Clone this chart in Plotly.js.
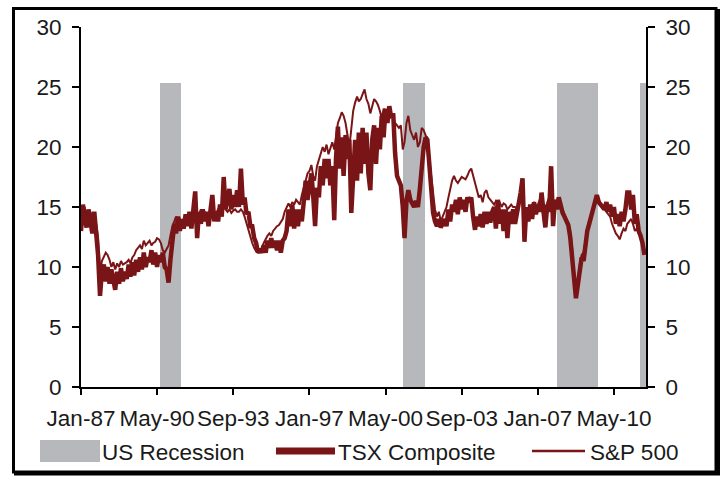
<!DOCTYPE html>
<html>
<head>
<meta charset="utf-8">
<script src="https://cdn.plot.ly/plotly-3.0.1.min.js"></script>
<style>html,body{margin:0;padding:0;background:#fff;}#chart{width:722px;height:478px;}</style>
</head>
<body>
<div id="chart"></div>
<script>
// Monthly series start Jan-1987
const startYear = 1987;
const tsx = [
  13.0, 15.2, 14.0, 13.3, 14.8, 13.4, 12.8, 14.6, 12.9, 11.0, 7.6, 9.6,
  10.2, 8.8, 10.0, 8.6, 9.8, 8.8, 8.1, 9.6, 8.6, 9.9, 8.8, 9.6,
  9.0, 10.2, 9.2, 10.4, 9.3, 10.6, 9.6, 10.8, 9.8, 11.2, 10.0, 10.8,
  10.4, 11.4, 10.2, 11.2, 10.0, 11.0, 10.4, 11.2, 10.0, 9.8, 8.7, 10.6,
  12.0, 13.6, 12.8, 14.2, 13.0, 14.0, 13.2, 14.4, 13.4, 14.6, 13.2, 14.4,
  16.3, 12.4, 14.6, 13.6, 14.8, 13.8, 14.6, 13.4, 14.8, 16.0, 13.8, 14.6,
  13.8, 15.2, 14.2, 17.5, 14.8, 16.0, 16.5, 14.8, 16.0, 15.0, 16.4, 15.0,
  18.2, 15.2, 15.8, 14.4, 14.6, 13.4, 13.4, 12.4, 12.0, 11.2, 11.5, 11.2,
  11.8, 11.2, 12.2, 11.6, 12.4, 11.6, 12.2, 11.4, 12.2, 11.2, 12.2, 12.4,
  13.0, 14.8, 13.4, 15.2, 13.2, 14.8, 13.4, 14.8, 13.8, 15.4, 17.2, 15.6,
  16.8, 17.8, 16.0, 13.4, 16.6, 15.8, 18.4, 16.8, 19.0, 17.4, 19.0, 16.8,
  18.4, 13.9, 19.0, 21.7, 18.2, 20.8, 17.6, 21.0, 19.0, 20.6, 14.5, 18.4,
  20.6, 17.2, 21.2, 17.8, 21.6, 18.6, 21.2, 17.8, 16.4, 20.6, 21.8, 18.6,
  21.6, 19.8, 22.6, 20.8, 23.2, 22.0, 23.4, 22.4, 22.8, 19.5, 17.6, 17.2,
  16.8, 15.0, 12.4, 15.5, 16.4, 15.6, 15.2, 15.0, 15.5, 15.0, 16.5, 18.5,
  20.0, 20.8, 20.6, 18.6, 16.5, 14.5, 13.8, 13.4, 14.0, 13.3, 13.6, 14.0,
  13.4, 14.8, 13.8, 15.2, 14.6, 15.6, 14.4, 15.8, 14.8, 15.6, 14.6, 15.8,
  15.4, 15.8, 14.2, 13.1, 14.2, 13.4, 14.4, 13.3, 14.6, 13.6, 14.6, 13.7,
  14.6, 15.0, 13.2, 15.6, 13.6, 14.8, 13.0, 14.8, 12.4, 14.6, 13.6, 14.8,
  13.6, 14.8, 15.3, 16.2, 17.4, 12.1, 15.0, 13.8, 15.2, 14.0, 15.4, 14.4,
  15.2, 14.6, 16.2, 14.6, 13.3, 15.2, 14.6, 18.4, 13.4, 15.6, 14.8, 15.8,
  15.0, 14.5, 14.2, 13.8, 13.5, 12.5, 11.0, 9.0, 7.4, 8.5, 10.0, 10.8,
  10.5, 12.0, 13.0, 13.6, 14.2, 15.0, 15.6, 16.0, 15.4, 15.2, 15.0, 14.8,
  15.4, 14.6, 15.2, 14.2, 15.0, 13.6, 14.4, 13.4, 14.6, 13.8, 14.8, 16.2,
  16.2, 14.8, 16.0, 13.6, 14.4, 13.0, 12.6, 12.0, 11.0
];
const sp500 = [
  14.0, 14.6, 15.0, 14.2, 14.0, 14.6, 14.0, 14.4, 13.6, 12.5, 9.5, 10.5,
  10.8, 11.2, 11.0, 10.6, 10.0, 10.4, 9.8, 10.3, 10.0, 10.5, 10.2, 10.3,
  10.4, 10.6, 10.3, 10.8, 11.0, 11.4, 11.6, 11.8, 11.5, 12.2, 11.8, 12.0,
  12.2, 11.8, 12.0, 12.1, 12.4, 12.3, 12.0, 11.4, 11.2, 11.5, 11.8, 12.6,
  13.4, 13.8, 14.2, 13.8, 14.0, 13.6, 14.0, 14.2, 13.8, 14.4, 14.0, 14.6,
  15.0, 14.0, 14.4, 14.8, 14.2, 14.6, 14.4, 14.2, 14.6, 14.8, 14.6, 14.5,
  14.8, 15.0, 14.6, 15.2, 14.8, 14.6, 14.8, 14.5, 14.7, 14.8, 14.6, 14.6,
  14.8, 14.6, 14.2, 13.6, 13.0, 12.4, 12.0, 11.6, 11.3, 11.2, 11.4, 11.6,
  12.0, 12.4, 12.6, 12.8, 12.6, 13.0, 13.2, 13.4, 13.5, 13.7, 14.0, 14.6,
  15.0, 15.3, 15.0, 15.4, 15.2, 15.6, 15.4, 15.2, 16.0, 16.6, 17.4, 17.8,
  18.0, 18.5, 17.6, 17.2, 18.4, 19.0, 19.5, 20.0, 19.6, 20.2, 19.4, 20.0,
  20.4, 19.8, 21.0, 22.0, 22.4, 22.9, 22.6, 22.0, 21.0, 20.0, 21.5, 23.0,
  23.7, 24.2, 23.8, 24.0, 24.4, 24.8, 24.0, 23.6, 22.8, 23.5, 24.0, 23.8,
  23.5, 23.0, 22.4, 23.2, 22.8, 23.0, 22.6, 22.8, 22.4, 22.0, 21.8, 21.6,
  21.8, 19.8, 20.4, 22.0, 22.6, 21.4, 21.0, 20.6, 21.2, 20.0, 20.4, 21.6,
  21.4, 21.0, 20.6, 19.0, 17.5, 15.8, 14.8, 14.2, 14.6, 13.8, 14.2, 14.6,
  15.0, 15.8, 16.6, 17.2, 17.6, 17.2, 17.0, 17.3, 17.5, 17.4, 17.3, 17.6,
  18.0, 18.2, 17.6, 17.1, 16.4, 15.8, 16.0, 15.4, 16.2, 16.4, 15.8, 15.6,
  15.4, 15.2, 15.5, 15.3, 15.4, 15.0, 15.3, 15.2, 14.8, 15.0, 15.2, 15.0,
  15.0, 14.8, 15.2, 15.6, 16.4, 14.2, 14.8, 14.6, 15.0, 15.2, 15.4, 15.0,
  15.2, 15.6, 15.8, 15.2, 14.6, 15.4, 15.8, 16.6, 14.8, 15.4, 15.6, 15.6,
  15.2, 14.8, 14.4, 14.0, 13.6, 13.0, 11.6, 9.6, 8.0, 8.8, 10.2, 11.0,
  11.2, 12.2, 13.2, 13.8, 14.4, 15.0, 15.4, 15.8, 15.6, 15.2, 15.0, 14.8,
  14.6, 14.4, 14.2, 13.6, 13.2, 12.8, 12.6, 12.3, 12.8, 13.2, 13.0, 13.6,
  13.8, 14.0, 13.6, 13.0, 13.2, 12.8, 12.4, 12.0, 11.4
];
const recessionStart = ['1990-06-20', '2001-02-01', '2007-11-01', '2011-06-20'];
const recessionEnd   = ['1991-05-20', '2002-01-15', '2009-08-20', '2011-10-01'];
const recessionLevel = 25.3;
const tickDates  = ['1987-01-01','1990-05-01','1993-09-01','1997-01-01','2000-05-01','2003-09-01','2007-01-01','2010-05-01'];
const tickLabels = ['Jan-87','May-90','Sep-93','Jan-97','May-00','Sep-03','Jan-07','May-10'];
const seriesNames = ['US Recession', 'TSX Composite', 'S&P 500'];

function monthDate(i) {
  const y = startYear + Math.floor(i / 12);
  const m = (i % 12) + 1;
  return y + '-' + (m < 10 ? '0' + m : m) + '-01';
}
const dates = tsx.map((_, i) => monthDate(i));

const recX = [], recW = [], recY = [];
for (let i = 0; i < recessionStart.length; i++) {
  const a = new Date(recessionStart[i] + 'T00:00:00Z').getTime();
  const b = new Date(recessionEnd[i] + 'T00:00:00Z').getTime();
  recX.push(new Date((a + b) / 2).toISOString().slice(0, 19).replace('T', ' '));
  recW.push(b - a);
  recY.push(recessionLevel);
}

const RED = '#7a1517';
const GRAY = '#b7b8bb';
const FONT = 'Liberation Sans, Arial, sans-serif';
const TXT = '#1a1a1a';
const FS = 22.5;

const traces = [
  {type: 'bar', name: seriesNames[0], x: recX, y: recY, width: recW,
   marker: {color: GRAY, line: {width: 0}}, showlegend: false, hoverinfo: 'skip'},
  {type: 'scatter', mode: 'lines', name: seriesNames[1], x: dates, y: tsx,
   line: {color: RED, width: 4.5}, showlegend: false},
  {type: 'scatter', mode: 'lines', name: seriesNames[2], x: dates, y: sp500,
   line: {color: RED, width: 2}, showlegend: false},
  {type: 'scatter', mode: 'lines', x: [dates[0]], y: [0], yaxis: 'y2',
   showlegend: false, hoverinfo: 'skip', line: {width: 0}}
];

const W = 565, H = 360, L = 81, B0 = 387;
const px = v => (v - L) / W;
const py = v => (B0 - v) / H;

const axisCommon = {
  showgrid: false, zeroline: false, showline: true, linecolor: '#000', linewidth: 2,
  ticks: 'outside', tickwidth: 2, tickcolor: '#000',
  tickfont: {family: FONT, size: FS, color: TXT}
};

const layout = {
  width: 722, height: 478,
  margin: {l: 81, r: 76, t: 27, b: 91},
  paper_bgcolor: '#fff', plot_bgcolor: '#fff',
  barmode: 'overlay', bargap: 0,
  showlegend: false,
  font: {family: FONT, size: FS, color: TXT},
  xaxis: Object.assign({}, axisCommon, {
    type: 'date', range: ['1987-01-01', '2011-09-26'],
    tickmode: 'array', tickvals: tickDates, ticktext: tickLabels,
    ticklen: 6, ticklabelstandoff: 4
  }),
  yaxis: Object.assign({}, axisCommon, {
    range: [0, 30], dtick: 5, tick0: 0, ticklen: 7, ticklabelstandoff: 6
  }),
  yaxis2: Object.assign({}, axisCommon, {
    overlaying: 'y', side: 'right', range: [0, 30], dtick: 5, tick0: 0,
    ticklen: 7, ticklabelstandoff: 6
  }),
  shapes: [
    {type: 'rect', xref: 'paper', yref: 'paper', x0: px(13.5), x1: px(716), y0: py(472), y1: py(8.5),
     line: {color: '#000', width: 3}, fillcolor: 'rgba(0,0,0,0)'},
    {type: 'line', xref: 'paper', yref: 'paper', x0: px(718), x1: px(718), y0: py(474), y1: py(9),
     line: {color: '#000', width: 4}},
    {type: 'line', xref: 'paper', yref: 'paper', x0: px(14), x1: px(720), y0: py(474), y1: py(474),
     line: {color: '#000', width: 3}},
    {type: 'rect', xref: 'paper', yref: 'paper', x0: px(40), x1: px(100), y0: py(462), y1: py(440),
     line: {width: 0}, fillcolor: GRAY},
    {type: 'line', xref: 'paper', yref: 'paper', x0: px(276), x1: px(335), y0: py(451), y1: py(451),
     line: {color: RED, width: 7}},
    {type: 'line', xref: 'paper', yref: 'paper', x0: px(532), x1: px(585), y0: py(451), y1: py(451),
     line: {color: RED, width: 2.5}}
  ],
  annotations: [
    {xref: 'paper', yref: 'paper', x: px(100), y: py(452), xanchor: 'left', yanchor: 'middle',
     text: seriesNames[0], showarrow: false, font: {family: FONT, size: FS, color: TXT}},
    {xref: 'paper', yref: 'paper', x: px(336), y: py(452), xanchor: 'left', yanchor: 'middle',
     text: seriesNames[1], showarrow: false, font: {family: FONT, size: FS, color: TXT}},
    {xref: 'paper', yref: 'paper', x: px(588), y: py(452), xanchor: 'left', yanchor: 'middle',
     text: seriesNames[2], showarrow: false, font: {family: FONT, size: FS, color: TXT}}
  ]
};

Plotly.newPlot('chart', traces, layout, {staticPlot: true, displayModeBar: false});
</script>
</body>
</html>
